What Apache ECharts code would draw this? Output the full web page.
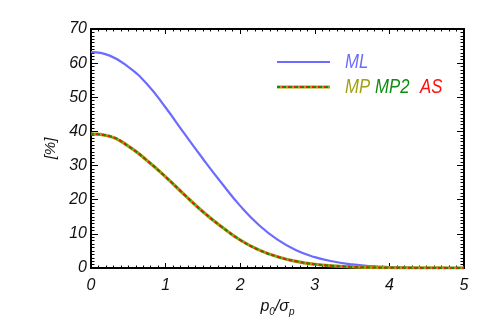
<!DOCTYPE html>
<html>
<head>
<meta charset="utf-8">
<script src="https://cdn.jsdelivr.net/npm/echarts@6/dist/echarts.min.js"></script>
<style>
  html, body { margin: 0; padding: 0; background: #fff; }
  #chart { width: 491px; height: 327px; }
</style>
</head>
<body>
<div id="chart"></div>
<script>
// p0/sigma_p sample points
var xValues = [0, 0.25, 0.5, 0.75, 1, 1.25, 1.5, 1.75, 2, 2.25, 2.5, 2.75, 3, 3.25, 3.5, 3.75, 4, 4.25, 4.5, 4.75, 5];
// values, in %
var mlValues  = [63.2, 62.2, 58.9, 53.9, 47.0, 39.4, 32.0, 24.9, 18.2, 12.6, 8.3, 5.2, 3.2, 1.9, 1.05, 0.55, 0.27, 0.13, 0.06, 0.03, 0.01];
var mpValues  = [39.3, 38.6, 35.7, 31.5, 26.7, 21.5, 16.5, 12.1, 8.2, 5.3, 3.3, 1.95, 1.1, 0.6, 0.32, 0.16, 0.08, 0.04, 0.02, 0.01, 0.0];
var mp2Values = [39.3, 38.6, 35.7, 31.5, 26.7, 21.5, 16.5, 12.1, 8.2, 5.3, 3.3, 1.95, 1.1, 0.6, 0.32, 0.16, 0.08, 0.04, 0.02, 0.01, 0.0];
var asValues  = [39.3, 38.6, 35.7, 31.5, 26.7, 21.5, 16.5, 12.1, 8.2, 5.3, 3.3, 1.95, 1.1, 0.6, 0.32, 0.16, 0.08, 0.04, 0.02, 0.01, 0.0];

var xTicks = [0, 1, 2, 3, 4, 5];
var yTicks = [0, 10, 20, 30, 40, 50, 60, 70];

var FONT = "'Liberation Sans', Arial, sans-serif";
var C_ML = '#6b6bff', C_MP = '#a0a010', C_MP2 = '#108a10', C_AS = '#ff1010';

function pairs(ys) {
  return xValues.map(function (x, i) { return [x, ys[i]]; });
}

var chart = echarts.init(document.getElementById('chart'), null, { renderer: 'canvas' });

var axisCommon = {
  type: 'value',
  axisLine: { show: true, onZero: false, lineStyle: { color: '#000', width: 2 } },
  splitLine: { show: false },
  minorSplitLine: { show: false }
};

var option = {
  animation: false,
  backgroundColor: '#fff',
  grid: { left: 91, right: 27, top: 29, bottom: 59 },
  xAxis: [
    Object.assign({}, axisCommon, {
      position: 'bottom',
      min: xTicks[0], max: xTicks[xTicks.length - 1], interval: 1,
      axisTick: { inside: true, length: 5, lineStyle: { color: '#000', width: 1 } },
      minorTick: { show: true, splitNumber: 10, length: 2.5, lineStyle: { color: '#000', width: 1 } },
      axisLabel: { margin: 10, color: '#111', fontSize: 16, fontStyle: 'italic', fontFamily: FONT },
      name: '{i|p}{s|0}{i|/σ}{s|p}',
      nameLocation: 'middle',
      nameGap: 29,
      nameTextStyle: {
        rich: {
          i: { fontSize: 16, fontStyle: 'italic', fontFamily: FONT, color: '#111' },
          s: { fontSize: 10, fontStyle: 'italic', fontFamily: FONT, color: '#111', padding: [10, 0, 0, 0] }
        }
      }
    }),
    Object.assign({}, axisCommon, {
      position: 'top',
      min: xTicks[0], max: xTicks[xTicks.length - 1], interval: 1,
      axisTick: { inside: true, length: 5, lineStyle: { color: '#000', width: 1 } },
      minorTick: { show: true, splitNumber: 10, length: 2.5, lineStyle: { color: '#000', width: 1 } },
      axisLabel: { show: false }
    })
  ],
  yAxis: [
    Object.assign({}, axisCommon, {
      position: 'left',
      min: yTicks[0], max: yTicks[yTicks.length - 1], interval: 10,
      axisTick: { inside: true, length: 7, lineStyle: { color: '#000', width: 1 } },
      minorTick: { show: true, splitNumber: 10, length: 3.5, lineStyle: { color: '#000', width: 1 } },
      axisLabel: { margin: 4, color: '#111', fontSize: 16, fontStyle: 'italic', fontFamily: FONT },
      name: '[%]',
      nameLocation: 'middle',
      nameRotate: 90,
      nameGap: 31,
      nameTextStyle: { fontSize: 15, fontStyle: 'italic', fontFamily: FONT, color: '#111' }
    }),
    Object.assign({}, axisCommon, {
      position: 'right',
      min: yTicks[0], max: yTicks[yTicks.length - 1], interval: 10,
      axisTick: { inside: true, length: 7, lineStyle: { color: '#000', width: 1 } },
      minorTick: { show: true, splitNumber: 10, length: 3.5, lineStyle: { color: '#000', width: 1 } },
      axisLabel: { show: false }
    })
  ],
  series: [
    {
      name: 'ML', type: 'line', smooth: 0.5, symbol: 'none',
      data: pairs(mlValues),
      lineStyle: { color: C_ML, width: 2.2 }, z: 3
    },
    {
      name: 'MP', type: 'line', smooth: 0.5, symbol: 'none',
      data: pairs(mpValues),
      lineStyle: { color: C_MP, width: 3.2 }, z: 4
    },
    {
      name: 'MP2', type: 'line', smooth: 0.5, symbol: 'none',
      data: pairs(mp2Values),
      lineStyle: { color: C_MP2, width: 2, type: [3, 3] }, z: 5
    },
    {
      name: 'AS', type: 'line', smooth: 0.5, symbol: 'none',
      data: pairs(asValues),
      lineStyle: { color: C_AS, width: 2, type: [2, 4], dashOffset: 1 }, z: 6
    }
  ],
  graphic: [
    // legend, row 1
    { type: 'line', shape: { x1: 277, y1: 62, x2: 330, y2: 62 }, style: { stroke: C_ML, lineWidth: 2.2 } },
    { type: 'text', x: 345, y: 62, scaleX: 0.8, style: { text: 'ML', fill: C_ML, font: 'italic 21px ' + FONT, verticalAlign: 'middle' } },
    // legend, row 2
    { type: 'line', shape: { x1: 277, y1: 87, x2: 330, y2: 87 }, style: { stroke: C_MP, lineWidth: 3.2 } },
    { type: 'line', shape: { x1: 277, y1: 87, x2: 330, y2: 87 }, style: { stroke: C_MP2, lineWidth: 2, lineDash: [3, 3] } },
    { type: 'line', shape: { x1: 277, y1: 87, x2: 330, y2: 87 }, style: { stroke: C_AS, lineWidth: 2, lineDash: [2, 4], lineDashOffset: 1 } },
    { type: 'text', x: 345, y: 87, scaleX: 0.8, style: { text: 'MP', fill: C_MP, font: 'italic 21px ' + FONT, verticalAlign: 'middle' } },
    { type: 'text', x: 375, y: 87, scaleX: 0.8, style: { text: 'MP2', fill: C_MP2, font: 'italic 21px ' + FONT, verticalAlign: 'middle' } },
    { type: 'text', x: 420, y: 87, scaleX: 0.8, style: { text: 'AS', fill: C_AS, font: 'italic 21px ' + FONT, verticalAlign: 'middle' } }
  ]
};

chart.setOption(option);
</script>
</body>
</html>
